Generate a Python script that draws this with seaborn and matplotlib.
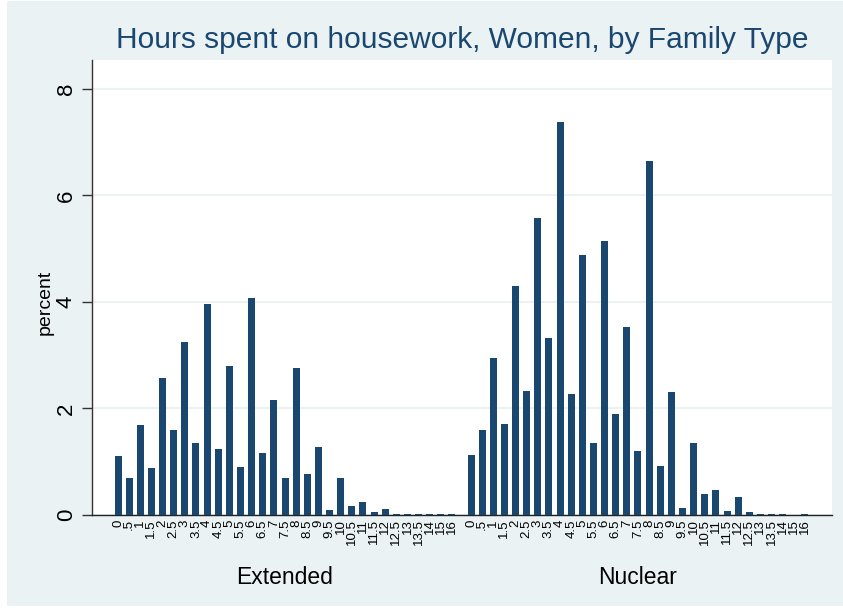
import numpy as np
import pandas as pd
import matplotlib
matplotlib.use("Agg")
import matplotlib.pyplot as plt
import matplotlib.patches as mpatches
import matplotlib.transforms as mtrans
import seaborn as sns

hours = ["0", ".5", "1", "1.5", "2", "2.5", "3", "3.5", "4", "4.5", "5", "5.5",
         "6", "6.5", "7", "7.5", "8", "8.5", "9", "9.5", "10", "10.5", "11",
         "11.5", "12", "12.5", "13", "13.5", "14", "15", "16"]
groups = ["Extended", "Nuclear"]
extended = [1.10, 0.70, 1.68, 0.88, 2.58, 1.60, 3.24, 1.36, 3.96, 1.24, 2.80, 0.90,
            4.07, 1.16, 2.16, 0.70, 2.75, 0.77, 1.27, 0.09, 0.70, 0.17, 0.24,
            0.055, 0.11, 0.02, 0.02, 0.02, 0.02, 0.02, 0.02]
nuclear = [1.12, 1.60, 2.95, 1.70, 4.29, 2.32, 5.57, 3.32, 7.37, 2.27, 4.88, 1.35,
           5.14, 1.90, 3.52, 1.20, 6.64, 0.92, 2.30, 0.13, 1.36, 0.39, 0.46,
           0.08, 0.33, 0.06, 0.02, 0.02, 0.02, 0.0, 0.02]

navy = "#1a476f"
bg = "#eaf2f3"

n = len(hours)
gap = 1.71
offsets = [0.0, n - 1 + gap]
rows = []
for g, vals, off in zip(groups, [extended, nuclear], offsets):
    for i, (h, v) in enumerate(zip(hours, vals)):
        rows.append({"family": g, "hours": h, "percent": v, "pos": off + i})
df = pd.DataFrame(rows)

sns.set_theme(style="white")
plt.rcParams["font.family"] = ["Liberation Sans", "DejaVu Sans"]

fig = plt.figure(figsize=(8.43, 6.13), dpi=100)
fig.patch.set_facecolor("white")
bgrect = mpatches.Rectangle((7 / 843, 1 - 606 / 613), (843 - 7) / 843, (606 - 1) / 613,
                            transform=fig.transFigure, facecolor=bg,
                            edgecolor="none", zorder=-10)
fig.patches.append(bgrect)
ax = fig.add_axes([92 / 843, 1 - 515 / 613, (832 - 92) / 843, (515 - 60) / 613])
ax.set_zorder(5)
ax.set_facecolor("white")

sns.barplot(data=df, x="pos", y="percent", native_scale=True, color=navy,
            saturation=1, width=0.63, errorbar=None, ax=ax, zorder=3,
            linewidth=0, edgecolor=navy)

ax.set_xlim(-2.34, offsets[1] + n - 1 + 2.43)
ax.set_ylim(0, 8.54)
ax.set_yticks([0, 2, 4, 6, 8])
ax.set_yticklabels(["0", "2", "4", "6", "8"], rotation=90, va="center", fontsize=16)
ax.yaxis.grid(True, color=bg, linewidth=1.5, zorder=0)
ax.set_axisbelow(True)
ax.tick_params(axis="y", left=True, length=7, width=1, color="#333333", pad=4,
               labelcolor="black")

ax.set_xticks(df["pos"].tolist())
ax.set_xticklabels(df["hours"].tolist(), rotation=90, fontsize=9.5)
ax.tick_params(axis="x", bottom=False, length=0, pad=3, labelcolor="black")

for s in ["top", "right"]:
    ax.spines[s].set_visible(False)
ax.spines["left"].set_color("#333333")
ax.spines["left"].set_linewidth(1)
ax.spines["bottom"].set_color("#222222")
ax.spines["bottom"].set_linewidth(1)

ax.set_xlabel("")
ax.set_ylabel("")
fig.text(45 / 843, 1 - 302 / 613, "percent", rotation=90, ha="center", va="center",
         fontsize=14, color="black", zorder=10)

trans = mtrans.blended_transform_factory(ax.transData, fig.transFigure)
for g, off in zip(groups, offsets):
    ax.text(off + (n - 1) / 2, 1 - 577 / 613, g, transform=trans, ha="center",
            va="center", fontsize=16.5, color="black")

fig.text((92 + 832) / 2 / 843, 1 - 40 / 613, "Hours spent on housework, Women, by Family Type",
         ha="center", va="center", fontsize=21.5, color=navy, zorder=10)

fig.savefig("out.png", dpi=100, facecolor="white")
